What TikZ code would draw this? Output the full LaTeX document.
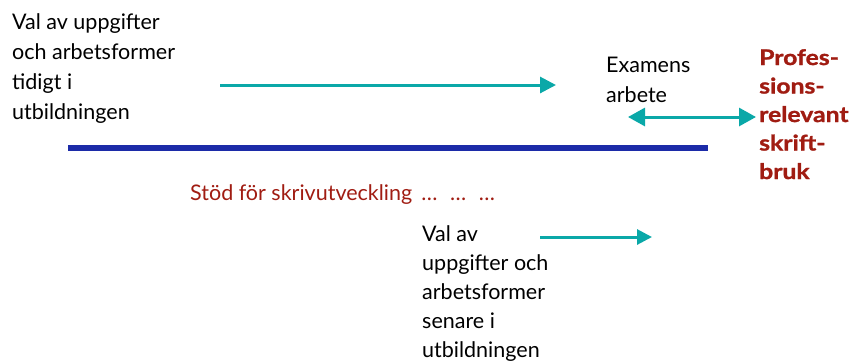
\documentclass[tikz,border=0pt]{standalone}
\usepackage{fontspec}
\setmainfont{Lato}
\usetikzlibrary{arrows.meta}
\definecolor{tealc}{HTML}{0AA8A8}
\definecolor{bluec}{HTML}{1C2BA8}
\definecolor{redc}{HTML}{A01C12}
\tikzset{
  txt/.style={inner sep=0pt, anchor=north west, align=left, font=\fontsize{21.5}{30}\selectfont, text=black},
  redtxt/.style={inner sep=0pt, anchor=north west, align=left, font=\fontsize{21.5}{28.5}\selectfont\bfseries\addfontfeature{FakeBold=1.2,FakeStretch=1.15}, text=redc},
  tealarrow/.style={draw=tealc, line width=3pt, -{Triangle[length=16pt,width=16pt]}},
}
\begin{document}
\begin{tikzpicture}[x=1pt,y=-1pt]
\useasboundingbox (0,0) rectangle (863,360);
\node[txt] (early) at (12,13) {Val av uppgifter\\och arbetsformer\\tidigt i\\utbildningen};
\coordinate (a1s) at (220,85);
\coordinate (a1e) at (556,85);
\draw[tealarrow] (a1s) -- (a1e);
\node[txt] (exam) at (606,57) {Examens\\arbete};
\node[redtxt] (prof) at (759,49) {Profes-\\sions-\\relevant\\skrift-\\bruk};
\coordinate (d1) at (628,117);
\coordinate (d2) at (756,117);
\draw[draw=tealc, line width=3pt, {Triangle[length=17pt,width=18pt]}-{Triangle[length=17pt,width=18pt]}] (d1) -- (d2);
\coordinate (b1) at (68,148);
\coordinate (b2) at (708,148);
\draw[draw=bluec, line width=6pt] (b1) -- (b2);
\node[inner sep=0pt, anchor=base west, font=\fontsize{21.5}{30}\selectfont, text=redc] (stod) at (190,200) {Stöd för skrivutveckling \,…\, \,…\, \,…};
\node[txt, font=\fontsize{21.5}{29}\selectfont] (late) at (422,225) {Val av\\uppgifter och\\arbetsformer\\senare i\\utbildningen};
\coordinate (a2s) at (540,237);
\coordinate (a2e) at (652,237);
\draw[tealarrow, -{Triangle[length=15pt,width=15pt]}] (a2s) -- (a2e);
\end{tikzpicture}
\end{document}
